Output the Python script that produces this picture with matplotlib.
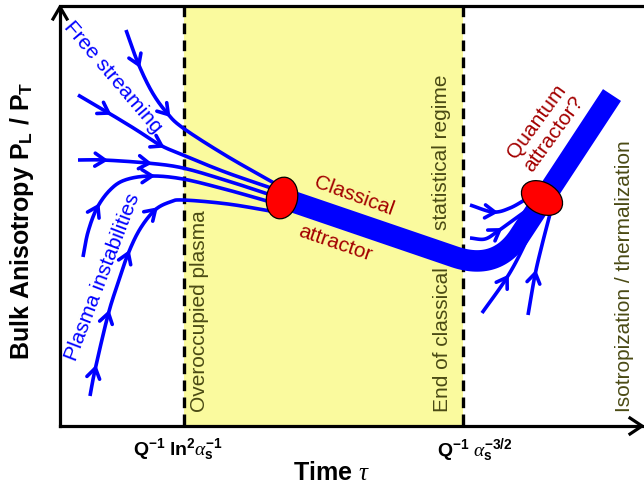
import numpy as np
import matplotlib
matplotlib.use("Agg")
import matplotlib.pyplot as plt
from matplotlib.patches import Ellipse, Rectangle

plt.rcParams['font.family'] = ['Liberation Sans', 'DejaVu Sans']
plt.rcParams['mathtext.fontset'] = 'custom'
plt.rcParams['mathtext.rm'] = 'Liberation Sans'
plt.rcParams['mathtext.bf'] = 'Liberation Sans:bold'
plt.rcParams['mathtext.it'] = 'Liberation Serif:italic'

# schematic is laid out in pixel units (x right, y down)
W, H = 644, 487
x_axis = 60
y_top, y_bottom = 6, 426
x_dash_left, x_dash_right = 184, 463

# flow lines converging on the classical attractor
left_lines = [
    [(126, 30), (138, 63), (152, 92), (167, 113), (183, 128), (225, 155), (274, 183)],
    [(78, 95), (107, 112), (135, 129), (160, 145), (183, 155), (225, 172), (274, 189)],
    [(78, 160), (103, 160), (147, 163), (183, 168), (228, 181), (274, 196)],
    [(83, 257), (88, 232), (97, 208), (110, 190), (125, 180), (150, 176), (183, 179),
     (228, 190), (274, 203)],
    [(90, 396), (95, 370), (108, 315), (118, 283), (128, 254), (140, 229), (155, 210),
     (170, 202), (183, 200), (228, 204), (276, 212)],
]
left_arrows = [
    [(138, 63), (167, 113)],
    [(107, 112), (160, 145)],
    [(103, 160), (147, 163)],
    [(97, 208), (150, 176)],
    [(95, 370), (108, 315), (127, 255), (153, 210)],
]

# flow lines converging on the quantum attractor
right_lines = [
    [(470, 205), (493, 212), (510, 208), (528, 198)],
    [(470, 238), (485, 239), (498, 231), (512, 221), (530, 208)],
    [(482, 313), (506, 279), (522, 250), (538, 214)],
    [(528, 315), (535, 275), (542, 245), (550, 214)],
]
right_arrows = [[(493, 212)], [(498, 231)], [(506, 279)], [(535, 275)]]

# attractor band: straight, rounded corner, straight
band_start = (285, 199)
band_corner = [(455, 257), (497, 271), (520, 235)]
band_end = (612, 95)

attractor1 = dict(xy=(282, 198), width=31, height=42, angle=12)
attractor2 = dict(xy=(542, 198), width=44, height=31, angle=30)

blue = '#0000FF'
dark_red = '#A30000'
olive = '#4A4A14'
yellow = '#FAFA9E'


def smooth(pts, n=30):
    p = np.asarray(pts, float)
    p = np.vstack([2 * p[0] - p[1], p, 2 * p[-1] - p[-2]])
    out = []
    t = np.linspace(0, 1, n, endpoint=False)[:, None]
    for i in range(1, len(p) - 2):
        p0, p1, p2, p3 = p[i - 1], p[i], p[i + 1], p[i + 2]
        seg = 0.5 * (2 * p1 + (-p0 + p2) * t + (2 * p0 - 5 * p1 + 4 * p2 - p3) * t ** 2
                     + (-p0 + 3 * p1 - 3 * p2 + p3) * t ** 3)
        out.append(seg)
    out.append(p[-2][None])
    return np.vstack(out)


def chevron(ax, tip, d, L=10, Wd=6.5, lw=2.6):
    d = np.asarray(d, float)
    d = d / np.hypot(*d)
    nrm = np.array([-d[1], d[0]])
    tip = np.asarray(tip, float) + 2 * d
    base = tip - L * d
    pts = np.array([base + Wd * nrm, tip, base - Wd * nrm])
    ax.plot(pts[:, 0], pts[:, 1], color=blue, lw=lw, solid_capstyle='round',
            solid_joinstyle='miter', zorder=4)


def flow(ax, pts, arrows):
    c = smooth(pts)
    ax.plot(c[:, 0], c[:, 1], color=blue, lw=2.6, solid_capstyle='butt', zorder=4)
    for a in arrows:
        i = np.argmin(np.hypot(c[:, 0] - a[0], c[:, 1] - a[1]))
        i = min(max(i, 1), len(c) - 2)
        chevron(ax, c[i], c[i + 1] - c[i - 1])


fig = plt.figure(figsize=(6.44, 4.87), dpi=100)
ax = fig.add_axes([0, 0, 1, 1])
ax.set_xlim(0, W)
ax.set_ylim(H, 0)
ax.axis('off')

# yellow classical region
ax.add_patch(Rectangle((x_dash_left, y_top), x_dash_right - x_dash_left, y_bottom - y_top,
                       facecolor=yellow, edgecolor='none', zorder=0))
for xd in (x_dash_left, x_dash_right):
    ax.plot([xd, xd], [y_top, y_bottom], color='black', lw=2.4, ls=(0, (3.2, 1.9)), zorder=1)

# frame with arrows
ax.plot([x_axis, x_axis, W], [y_bottom, y_top, y_top], color='black', lw=2.3,
        solid_joinstyle='miter', zorder=2)
ax.plot([x_axis, W - 1], [y_bottom, y_bottom], color='black', lw=2.3, zorder=2)
ax.plot([x_axis - 7, x_axis, x_axis + 7], [y_top + 13, y_top + 1, y_top + 13],
        color='black', lw=2.3, zorder=2)
ax.plot([W - 14, W - 2, W - 14], [y_bottom - 8, y_bottom, y_bottom + 8],
        color='black', lw=2.3, zorder=2)

# band
t = np.linspace(0, 1, 40)[:, None]
b0, bc, b2 = [np.array(p, float) for p in band_corner]
curve = (1 - t) ** 2 * b0 + 2 * (1 - t) * t * bc + t ** 2 * b2
band = np.vstack([band_start, curve, band_end])
ax.plot(band[:, 0], band[:, 1], color=blue, lw=15.5, solid_capstyle='butt',
        solid_joinstyle='round', zorder=3)

for pts, arr in zip(left_lines, left_arrows):
    flow(ax, pts, arr)
for pts, arr in zip(right_lines, right_arrows):
    flow(ax, pts, arr)

for e in (attractor1, attractor2):
    ax.add_patch(Ellipse(e['xy'], e['width'], e['height'], angle=e['angle'],
                         facecolor='#FF0000', edgecolor='black', lw=0.9, zorder=5))

fs = 15
ax.text(113, 77, 'Free streaming', color=blue, fontsize=fs, rotation=-49.5,
        ha='center', va='center', rotation_mode='anchor', zorder=6)
ax.text(103, 277, 'Plasma instabilities', color=blue, fontsize=fs, rotation=69,
        ha='center', va='center', rotation_mode='anchor', zorder=6)
ax.text(200, 311, 'Overoccupied plasma', color=olive, fontsize=fs, rotation=90,
        ha='center', va='center', zorder=6)
ax.text(354, 196, 'Classical', color=dark_red, fontsize=fs, rotation=-20,
        ha='center', va='center', rotation_mode='anchor', zorder=6)
ax.text(335, 243, 'attractor', color=dark_red, fontsize=fs, rotation=-19,
        ha='center', va='center', rotation_mode='anchor', zorder=6)
ax.text(442, 152, 'statistical regime', color=olive, fontsize=fs, rotation=90,
        ha='center', va='center', zorder=6)
ax.text(443, 340, 'End of classical', color=olive, fontsize=fs, rotation=90,
        ha='center', va='center', zorder=6)
ax.text(545, 128, 'Quantum\nattractor?', color=dark_red, fontsize=fs, rotation=54,
        ha='center', va='center', multialignment='center', rotation_mode='anchor',
        linespacing=1.15, zorder=6)
ax.text(625, 276, 'Isotropization / thermalization', color=olive, fontsize=fs,
        rotation=90, ha='center', va='center', zorder=6)

ax.text(22, 221, r'Bulk Anisotropy P$_\mathbf{L}$ / P$_\mathbf{T}$', fontsize=18,
        fontweight='bold', rotation=90, ha='center', va='center')
ax.text(331, 473, r'Time $\tau$', fontsize=18, fontweight='bold', ha='center', va='center')
ax.text(178, 450, r'$\mathbf{Q^{-1}\ ln^{2}}\alpha_{\mathbf{s}}^{\mathbf{-1}}$',
        fontsize=14, ha='center', va='center')
ax.text(475, 450, r'$\mathbf{Q^{-1}}\ \alpha_{\mathbf{s}}^{\mathbf{-3/2}}$',
        fontsize=14, ha='center', va='center')

fig.savefig('out.png', dpi=100)
